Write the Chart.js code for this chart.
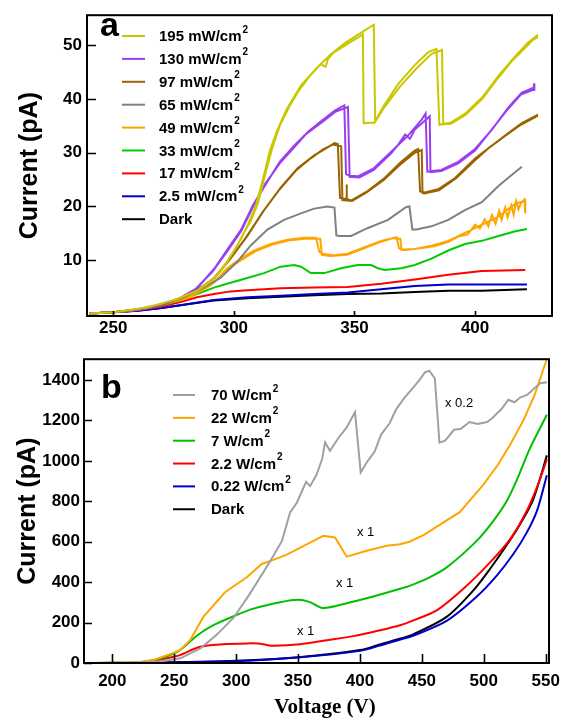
<!DOCTYPE html>
<html>
<head>
<meta charset="utf-8">
<script src="https://cdn.jsdelivr.net/npm/chart.js@4.4.1/dist/chart.umd.min.js"></script>
<style>
  html, body { margin: 0; padding: 0; background: #fff; }
  #wrap { position: relative; width: 574px; height: 721px; }
  #chartA { position: absolute; left: 0; top: 0; }
  #chartB { position: absolute; left: 0; top: 345px; }
</style>
</head>
<body>
<div id="wrap">
  <canvas id="chartA" width="574" height="345"></canvas>
  <canvas id="chartB" width="574" height="376"></canvas>
</div>
<script>
'use strict';

// ---- panel a : I-V sweeps, [V, pA]; "Up" = forward sweep, "Down" = reverse sweep
const a195Up = [[240,0.1],[250,0.3],[260,0.9],[270,1.9],[277,2.9],[285,4.4],[292,6.8],[297,9.6],[301,12.4],[304,15.0],[307,17.3],[310,20.6],[313,26.0],[316,31.0],[319,35.0],[323,38.6],[327,41.6],[331,44.0],[336,46.5],[338,46.0],[339,47.4],[341,48.5],[347,50.2],[353.5,52.0],[353.8,35.5],[358.3,35.6],[362,38.6],[368,42.7],[375,46.3],[380.6,48.7],[384,49.3],[385.2,35.2],[390,35.6],[396,37.3],[403,40.3],[410,44.5],[417,48.1],[422,50.5],[425.7,51.8]];
const a195Down = [[425.7,51.4],[424,51.0],[421,49.6],[415,46.9],[409,43.6],[403,40.0],[396,37.0],[390,35.4],[386.8,35.3],[386.3,49.1],[382,48.4],[376,45.8],[369,42.4],[365,40.0],[362,38.2],[358.6,35.8],[358,53.8],[353,52.4],[346,50.4],[340,48.2],[334,45.6],[328,42.6],[322,38.2],[318,34.2],[315,30.5],[312,25.0],[309,20.0],[306,16.8],[303,14.0],[299,11.0],[295,8.2],[290,5.9],[284,4.1],[276,2.7],[264,1.2],[250,0.3],[241,0.1]];
const a130Up = [[240,0.1],[250,0.3],[260,0.8],[270,1.7],[278,3.0],[285,4.9],[292,8.5],[297,11.8],[303,15.7],[308,20.3],[314,24.7],[319,28.3],[325,31.3],[331,34.0],[336,35.8],[342,37.9],[345.8,38.8],[346.5,26.0],[348,25.7],[351.4,25.6],[358,27.1],[365,30.1],[372,33.1],[377.8,36.1],[379.5,37.3],[380.2,26.5],[386,26.8],[393,28.3],[400,30.7],[407,34.3],[414,38.5],[419.4,41.2],[424.3,42.1],[424.5,42.9],[424.7,41.5]];
const a130Down = [[424.5,41.8],[419,40.8],[413,37.8],[406,33.8],[400,30.4],[393,28.0],[386,26.6],[381.5,26.4],[381.2,36.8],[378,35.5],[375,34.3],[373,32.6],[371,33.4],[368,31.4],[365,29.8],[358,26.8],[352,25.4],[348,25.5],[347.3,38.5],[342,37.6],[336,35.5],[330,33.5],[325,31.0],[319,28.0],[313,24.2],[308,20.0],[303,15.4],[297,11.5],[291,7.8],[284,4.6],[277,2.8],[265,1.1],[250,0.3],[241,0.1]];
const a97Up = [[240,0.1],[250,0.3],[260,0.8],[270,1.7],[280,3.3],[286,4.8],[292,6.7],[298.6,10.3],[305.6,14.5],[312.5,19.3],[319.4,23.5],[326.4,27.1],[333.3,29.5],[338.9,31.0],[341.7,31.8],[343.1,31.6],[344.0,21.6],[345.8,21.4],[346.5,21.5],[346.7,24.1],[346.9,21.4],[348.6,21.1],[355.6,22.9],[362.5,25.3],[369.4,28.3],[375,30.4],[376.4,30.7],[377.2,22.8],[379.2,22.6],[384.7,23.2],[391.7,25.3],[400,28.9],[406.9,31.3],[413.9,33.7],[419.4,35.5],[425.7,37.0]];
const a97Down = [[425.7,36.8],[419,35.2],[413,33.3],[406,31.0],[400,28.6],[392,25.2],[385,23.0],[379,22.4],[378.2,22.5],[377.9,30.5],[375,30.0],[369,27.8],[362,24.9],[355,22.6],[349,21.0],[345,21.2],[344.5,31.2],[341,31.5],[337,30.6],[332,29.0],[326,26.8],[319,23.2],[312,19.0],[305,14.2],[298,10.0],[291,6.3],[282,3.7],[270,1.6],[255,0.5],[241,0.1]];
const a65 = [[240,0.1],[250,0.3],[260,0.8],[270,1.6],[278,2.9],[285,4.3],[294.4,6.7],[301.4,9.7],[306.9,12.7],[313.9,15.7],[320.8,17.5],[327.8,18.7],[333.3,19.6],[338.9,20.0],[341.7,19.8],[342.5,14.6],[343.8,14.5],[348.6,14.5],[355.6,16.0],[363.9,17.5],[371.5,19.9],[372.8,20.0],[374,15.7],[375.7,15.7],[381.9,16.3],[388.9,17.5],[395.8,19.3],[402.8,20.8],[409.7,23.8],[415.3,25.9],[419.4,27.4]];
const a49Up = [[240,0.1],[250,0.3],[260,0.8],[270,1.6],[280,2.9],[286,4.2],[291.7,5.8],[297.2,8.5],[302.8,10.3],[308.3,11.8],[315.3,13.0],[322.2,13.8],[329.2,14.2],[334,14.2],[335.5,11.5],[336.8,11.2],[341.7,10.9],[347.2,11.2],[354.2,12.4],[361.1,13.6],[367.4,14.3],[368.5,12.2],[370.1,12.0],[375,12.1],[381.9,12.7],[388.9,13.6],[395.8,15.1],[402.8,16.6],[409.7,18.1],[416.7,20.5],[420.8,21.1]];
const a49Down = [[420.8,18.7],[420.5,21.3],[419,20.6],[418,19.5],[417,21.0],[416,18.5],[415,20.2],[413.5,18.0],[412.5,19.8],[411,17.5],[410,19.2],[408.5,16.8],[407,18.4],[405.5,16.3],[404,17.6],[402,15.9],[400,16.6],[397,14.8],[393,14.4],[389,13.4],[383,12.6],[377,12.2],[371,11.9],[369.5,11.9],[369,14.0],[366,14.1],[360,13.3],[354,12.2],[347,11.0],[340,10.8],[336.5,11.0],[335.8,14.0],[330,14.0],[323,13.7],[316,12.9],[309,11.7],[303,10.0],[298,8.6],[294,6.8],[290,5.2],[282,3.2],[270,1.6],[255,0.5],[241,0.1]];
const a33 = [[240,0.1],[250,0.3],[260,0.8],[270,1.6],[278,2.6],[284.7,3.7],[291.7,4.9],[298.6,5.8],[305.6,6.7],[312.5,7.6],[319.4,8.8],[325,9.1],[327.8,8.8],[331.9,7.6],[337.5,7.6],[344.4,8.5],[351.4,9.1],[356.9,9.1],[359.7,8.5],[362.5,8.2],[369.4,8.5],[375,9.1],[381.9,10.3],[388.9,11.8],[395.8,13.0],[402.8,13.6],[409.7,14.5],[416.7,15.4],[421.5,15.8]];
const a17 = [[240,0.1],[250,0.3],[260,0.7],[270,1.4],[277.8,2.2],[284.7,3.1],[291.7,3.7],[298.6,4.2],[305.6,4.4],[319.4,4.8],[333.3,4.9],[347.2,5.0],[361.1,5.6],[375,6.4],[388.9,7.3],[402.8,8.0],[420.8,8.2]];
const a2p5 = [[240,0.1],[250,0.3],[260,0.6],[270,1.1],[277.8,1.6],[291.7,2.6],[305.6,3.1],[319.4,3.4],[333.3,3.7],[347.2,4.0],[361.1,4.6],[375,5.2],[388.9,5.5],[402.8,5.5],[421.5,5.5]];
const aDark = [[240,0.1],[250,0.3],[260,0.6],[270,1.1],[277.8,1.6],[291.7,2.5],[305.6,2.9],[319.4,3.2],[333.3,3.5],[347.2,3.7],[361.1,3.8],[375,4.1],[388.9,4.3],[402.8,4.3],[421.5,4.6]];

const aLabels = ['195 mW/cm²', '130 mW/cm²', '97 mW/cm²', '65 mW/cm²', '49 mW/cm²', '33 mW/cm²', '17 mW/cm²', '2.5 mW/cm²', 'Dark'];
const aSeries = [a195Up.concat(a195Down), a130Up.concat(a130Down), a97Up.concat(a97Down), a65, a49Up.concat(a49Down), a33, a17, a2p5, aDark];
const aColors = ['#c8c800', '#9a3ff0', '#9a6300', '#808080', '#ffa500', '#00cc00', '#ff0000', '#0000cc', '#000000'];
const aTicksX = [250, 300, 350, 400];
const aTicksY = [10, 20, 30, 40, 50];

// ---- panel b : [V, pA]
const b70 = [[180,0],[200,1],[220,3],[240,9],[255,23],[271,72],[284,138],[298,224],[311,342],[327,498],[337,604],[343.5,744],[349,793],[356.5,896],[359.7,875],[365,932],[369.5,1010],[371.8,1092],[375.8,1050],[383,1117],[389,1163],[396,1241],[400.6,943],[405.3,991],[412,1047],[417,1130],[424,1186],[429,1253],[436,1313],[443.7,1367],[448,1400],[452.5,1438],[456,1446],[460.5,1408],[464.2,1090],[468.8,1100],[476,1154],[481.5,1159],[488.5,1192],[495,1182],[502.7,1192],[507,1212],[514.5,1258],[519.8,1302],[524.8,1290],[529.3,1313],[535,1326],[541,1359],[545.5,1384],[551,1389]];
const b22 = [[180,0],[200,1],[220,3],[234,16],[248.7,49],[254.7,64],[262.8,113],[273.5,228],[291,350],[308.6,424],[320.7,490],[330,510],[340.9,536],[359.7,596],[370.4,629],[379.9,621],[389.3,526],[405.5,555],[421.6,580],[432.4,588],[440.5,601],[452,635],[464,682],[480.6,746],[490.9,819],[499.7,883],[511.6,982],[521.3,1080],[532.3,1204],[541.1,1326],[551,1505]];
const b7 = [[180,0],[200,1],[220,3],[239.9,25],[254.7,64],[268.2,135],[281.6,187],[297.7,231],[313.9,269],[335.5,301],[350.2,313],[359.7,301],[370.4,272],[389.3,296],[410.8,329],[432.4,367],[440.5,383],[455,420],[470.1,473],[494.3,604],[507.8,703],[518.6,801],[526.3,900],[537.4,1063],[551,1228]];
const b2p2 = [[180,0],[200,1],[220,3],[234,13],[248.7,30],[254.7,39],[270.8,80],[289.7,93],[308.6,97],[318,96],[324,90],[330,85],[351.6,93],[373.2,113],[394.7,133],[416.2,162],[432.4,187],[443.2,211],[462,260],[483.5,367],[505.1,498],[521.3,613],[534.7,752],[543,870],[551,1007]];
const b0p22 = [[180,0],[200,0],[230,1],[255,4],[300,9],[350,27],[400,60],[416,86],[432,115],[443,135],[470,208],[494,326],[510.5,432],[523.9,539],[534.7,645],[542.8,750],[551,929]];
const bDark = [[180,0],[200,0],[230,1],[255,5],[300,11],[350,29],[400,64],[416,92],[432,120],[443,142],[470,228],[491.6,359],[505,465],[520,596],[529.3,686],[540,810],[551,1027]];

const bLabels = ['70 W/cm²', '22 W/cm²', '7 W/cm²', '2.2 W/cm²', '0.22 W/cm²', 'Dark'];
const bSeries = [b70, b22, b7, b2p2, b0p22, bDark];
const bColors = ['#a0a0a0', '#ffa500', '#00c000', '#ff0000', '#0000cc', '#000000'];
const bTension = [0, 0, 0.3, 0.3, 0.3, 0.3];
const bTicksX = [200, 250, 300, 350, 400, 450, 500, 550];
const bTicksY = [0, 200, 400, 600, 800, 1000, 1200, 1400];

const SANS = '"Liberation Sans", Arial, sans-serif';
const SERIF = '"Liberation Serif", "Times New Roman", serif';
Chart.defaults.font.family = SANS;
Chart.defaults.color = '#000';

// frame, inward ticks, in-plot legend, panel letter and scale notes
const panelDeco = {
  id: 'panelDeco',
  afterDraw(chart, args, o) {
    const { ctx, chartArea: a, scales: { x, y } } = chart;
    ctx.save();
    ctx.strokeStyle = '#000';
    ctx.lineWidth = 2;
    ctx.strokeRect(a.left, a.top, a.right - a.left, a.bottom - a.top);
    ctx.lineWidth = 1.6;
    ctx.beginPath();
    x.ticks.forEach(t => {
      const px = Math.round(x.getPixelForValue(t.value)) + 0.5;
      ctx.moveTo(px, a.bottom); ctx.lineTo(px, a.bottom - o.tickX);
    });
    y.ticks.forEach(t => {
      const py = Math.round(y.getPixelForValue(t.value)) + 0.5;
      ctx.moveTo(a.left, py); ctx.lineTo(a.left + o.tickY, py);
    });
    ctx.stroke();

    // legend
    const L = o.legend;
    chart.data.datasets.forEach((ds, i) => {
      const ry = L.y0 + i * L.dy;
      ctx.strokeStyle = ds.borderColor;
      ctx.lineWidth = 2;
      ctx.beginPath(); ctx.moveTo(L.x0, ry); ctx.lineTo(L.x1, ry); ctx.stroke();
      const main = ds.label.replace('²', '');
      ctx.fillStyle = '#000';
      ctx.textAlign = 'left';
      ctx.textBaseline = 'alphabetic';
      ctx.font = 'bold 15px ' + SANS;
      ctx.fillText(main, L.tx, ry + 5);
      if (ds.label.includes('²')) {
        const w = ctx.measureText(main).width;
        ctx.font = 'bold 10px ' + SANS;
        ctx.fillText('2', L.tx + w + 1, ry - 3.5);
      }
    });

    // panel letter
    ctx.font = 'bold 34px ' + SANS;
    ctx.fillStyle = '#000';
    ctx.fillText(o.tag.text, o.tag.x, o.tag.y);

    // bottom axis title (sits a little right of centre in the original)
    if (o.xTitle) {
      ctx.font = 'bold 21px ' + SERIF;
      ctx.textAlign = 'center';
      ctx.textBaseline = 'middle';
      ctx.fillText(o.xTitle.text, o.xTitle.x, o.xTitle.y);
    }

    // scale notes
    ctx.font = '13px ' + SANS;
    ctx.textAlign = 'left';
    ctx.textBaseline = 'middle';
    (o.notes || []).forEach(n => ctx.fillText(n.text, n.x, n.y));
    ctx.restore();
  }
};

function toPts(arr) { return arr.map(([v, i]) => ({ x: v, y: i })); }

function fixedTicks(values) {
  return scale => { scale.ticks = values.map(v => ({ value: v })); };
}

// ---------------- panel a
new Chart(document.getElementById('chartA'), {
  type: 'scatter',
  data: {
    datasets: aSeries.map((s, i) => ({
      label: aLabels[i],
      data: toPts(s),
      showLine: true,
      borderColor: aColors[i],
      borderWidth: 2,
      pointRadius: 0,
      tension: 0,
    })),
  },
  options: {
    responsive: false,
    animation: false,
    layout: { padding: { left: 0, top: 5, right: 22, bottom: 0 } },
    plugins: {
      legend: { display: false },
      tooltip: { enabled: false },
      panelDeco: {
        tickX: 5, tickY: 9,
        legend: { x0: 122, x1: 145, tx: 159, y0: 36, dy: 22.9 },
        tag: { text: 'a', x: 100, y: 36 },
      },
    },
    scales: {
      x: {
        type: 'linear', min: 239.1, max: 431.9,
        afterBuildTicks: fixedTicks(aTicksX),
        afterFit: s => { s.height = 29; },
        grid: { display: false, drawTicks: false },
        border: { display: false },
        ticks: { padding: 2, font: { size: 17, weight: 'bold' }, callback: v => String(v) },
      },
      y: {
        type: 'linear', min: -0.38, max: 55.58,
        afterBuildTicks: fixedTicks(aTicksY),
        afterFit: s => { s.width = 87; },
        grid: { display: false, drawTicks: false },
        border: { display: false },
        ticks: { padding: 5, font: { size: 17, weight: 'bold' }, callback: v => String(v) },
        title: { display: true, text: 'Current (pA)', font: { size: 25, weight: 'bold' }, padding: { top: 15 } },
      },
    },
  },
  plugins: [panelDeco],
});

// ---------------- panel b
new Chart(document.getElementById('chartB'), {
  type: 'scatter',
  data: {
    datasets: bSeries.map((s, i) => ({
      label: bLabels[i],
      data: toPts(s),
      showLine: true,
      borderColor: bColors[i],
      borderWidth: 2,
      pointRadius: 0,
      tension: bTension[i],
    })),
  },
  options: {
    responsive: false,
    animation: false,
    layout: { padding: { left: 0, top: 12, right: 25, bottom: 0 } },
    plugins: {
      legend: { display: false },
      tooltip: { enabled: false },
      panelDeco: {
        tickX: 9, tickY: 8,
        legend: { x0: 173, x1: 195, tx: 211, y0: 50, dy: 22.85 },
        tag: { text: 'b', x: 101, y: 53 },
        xTitle: { text: 'Voltage (V)', x: 325, y: 363 },
        notes: [
          { text: 'x 0.2', x: 445, y: 58 },
          { text: 'x 1', x: 357, y: 187 },
          { text: 'x 1', x: 336, y: 238 },
          { text: 'x 1', x: 297, y: 286 },
        ],
      },
    },
    scales: {
      x: {
        type: 'linear', min: 177.1, max: 552.7,
        afterBuildTicks: fixedTicks(bTicksX),
        afterFit: s => { s.height = 58; },
        grid: { display: false, drawTicks: false },
        border: { display: false },
        ticks: { padding: 8, font: { size: 17, weight: 'bold' }, callback: v => String(v) },
      },
      y: {
        type: 'linear', min: 0, max: 1503,
        afterBuildTicks: fixedTicks(bTicksY),
        afterFit: s => { s.width = 84; },
        grid: { display: false, drawTicks: false },
        border: { display: false },
        ticks: { padding: 4, font: { size: 17, weight: 'bold' }, callback: v => String(v) },
        title: { display: true, text: 'Current (pA)', font: { size: 25, weight: 'bold' }, padding: { top: 13 } },
      },
    },
  },
  plugins: [panelDeco],
});
</script>
</body>
</html>
